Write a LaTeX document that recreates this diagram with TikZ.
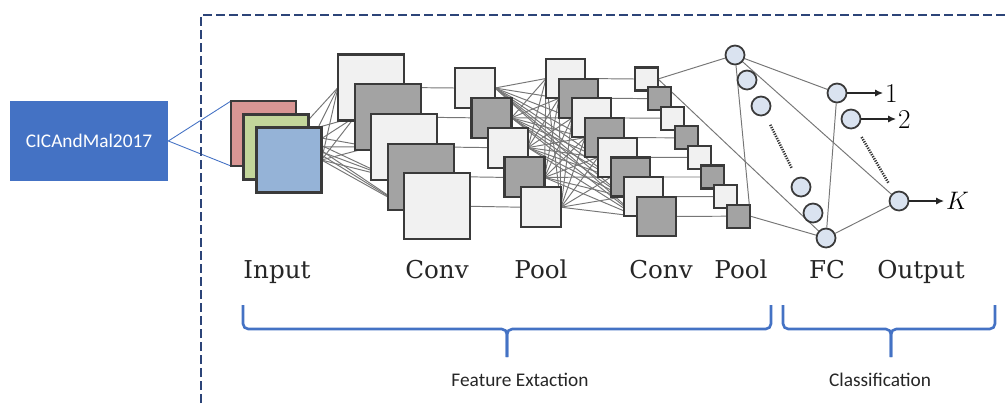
\documentclass[tikz,border=0pt]{standalone}
\usepackage{fontspec}
\usetikzlibrary{arrows.meta,backgrounds}
\newfontfamily\calfont{Carlito}
\newfontfamily\layerfont{DejaVu Serif}
\definecolor{boxblue}{HTML}{4472C4}
\definecolor{framenavy}{RGB}{44,68,120}
\definecolor{sqedge}{HTML}{3A3A3A}
\definecolor{sqlight}{HTML}{F1F1F1}
\definecolor{sqdark}{HTML}{A3A3A3}
\definecolor{neufill}{HTML}{DAE3F0}
\definecolor{linkgray}{HTML}{767676}
\definecolor{inred}{HTML}{D99694}
\definecolor{ingreen}{HTML}{C3D69B}
\definecolor{inblue}{HTML}{95B3D7}
\begin{document}
\begin{tikzpicture}[x=0.02cm,y=-0.02cm,
  sq/.style={draw=sqedge,line width=1.2pt,inner sep=0pt,outer sep=0pt},
  neuron/.style={circle,draw=sqedge,line width=1pt,fill=neufill,minimum size=0.38cm,inner sep=0pt},
  link/.style={draw=linkgray,line width=0.55pt},
  layer/.style={font=\layerfont\fontsize{14}{17}\selectfont,anchor=base,text=black!85},
  brace/.style={draw=boxblue,line width=1.5pt,rounded corners=3pt},
  outarrow/.style={draw=black!85,line width=0.7pt,-{Latex[length=4.5pt,width=4pt]}},
  ellip/.style={draw=black!80,line width=1.5pt,dash pattern=on 0.7pt off 0.7pt,shorten <=6pt,shorten >=6pt}]
\useasboundingbox (0,0) rectangle (1006,403);

\draw[framenavy,line width=1.2pt,dash pattern=on 5pt off 2.4pt] (201,403) -- (201,15) -- (1006,15);

\node[fill=boxblue,minimum width=3.16cm,minimum height=1.6cm,text=white,font=\calfont\fontsize{11}{13}\selectfont] (src) at (89,141) {CICAndMal2017};

\node[sq,fill=inred,minimum size=1.3cm] (in-r) at (263.5,133.5) {};
\node[sq,fill=ingreen,minimum size=1.3cm] (in-g) at (276,147) {};
\node[sq,fill=inblue,minimum size=1.3cm] (in-b) at (289,160) {};

\foreach \i/\fc in {1/sqlight,2/sqdark,3/sqlight,4/sqdark,5/sqlight} {
  \node[sq,fill=\fc,minimum size=1.32cm] (conv1-\i) at ({371+16.6*(\i-1)},{87.5+29.7*(\i-1)}) {};
  \node[sq,fill=\fc,minimum size=0.8cm] (pool1-\i) at ({475+16.5*(\i-1)},{88+29.8*(\i-1)}) {};
}
\foreach \i/\fc in {1/sqlight,2/sqdark,3/sqlight,4/sqdark,5/sqlight,6/sqdark,7/sqlight,8/sqdark} {
  \node[sq,fill=\fc,minimum size=0.78cm] (conv2-\i) at ({565.5+13*(\i-1)},{78.5+19.7*(\i-1)}) {};
  \node[sq,fill=\fc,minimum size=0.46cm] (pool2-\i) at ({646.5+13.2*(\i-1)},{79+19.6*(\i-1)}) {};
}

\foreach \i/\p in {1/{735,55},2/{747,80},3/{761,106},4/{801,187},5/{813,213},6/{826,238}}
  \node[neuron] (fc\i) at (\p) {};
\node[neuron] (out1) at (837,93) {};
\node[neuron] (out2) at (851,119) {};
\node[neuron] (outK) at (899,201) {};

\node[anchor=west,inner sep=1pt,font=\fontsize{15.5}{18}\selectfont] (y1) at (883,93) {1};
\node[anchor=west,inner sep=1pt,font=\fontsize{15.5}{18}\selectfont] (y2) at (896,119) {2};
\node[anchor=west,inner sep=1pt,font=\fontsize{15.5}{18}\selectfont] (yK) at (944,201) {$K$};
\draw[outarrow] (out1) -- (y1);
\draw[outarrow] (out2) -- (y2);
\draw[outarrow] (outK) -- (yK);
\draw[ellip] (fc3) -- (fc4);
\draw[ellip] (out2) -- (outK);

\begin{pgfonlayer}{background}
  \draw[boxblue,line width=0.5pt] (src.east) -- (in-r.north west);
  \draw[boxblue,line width=0.5pt] (src.east) -- (in-r.south west);
  \foreach \a in {in-r,in-g,in-b}
    \foreach \j in {1,...,5}
      \draw[link] (\a.east) -- (conv1-\j.west);
  \foreach \i in {1,...,5} {
    \draw[link] (conv1-\i.east) -- (pool1-\i.west);
    \foreach \j in {1,...,8}
      \draw[link] (pool1-\i.east) -- (conv2-\j.west);
  }
  \foreach \i in {1,...,8}
    \draw[link] (conv2-\i.east) -- (pool2-\i.west);
  \foreach \a in {pool2-1,pool2-8}
    \foreach \b in {fc1,fc6}
      \draw[link] (\a.east) -- (\b);
  \foreach \a in {fc1,fc6}
    \foreach \b in {out1,outK}
      \draw[link] (\a) -- (\b);
\end{pgfonlayer}

\node[layer] (lab-in) at (277,278) {Input};
\node[layer] (lab-c1) at (437,278) {Conv};
\node[layer] (lab-p1) at (541,278) {Pool};
\node[layer] (lab-c2) at (661,278) {Conv};
\node[layer] (lab-p2) at (741,278) {Pool};
\node[layer] (lab-fc) at (827,278) {FC};
\node[layer] (lab-out) at (921,278) {Output};

\draw[brace] (243,305) -- (243,329) -- (507,329) -- (507,357);
\draw[brace] (771,305) -- (771,329) -- (507,329) -- (507,357);
\draw[brace] (783,305) -- (783,329) -- (891,329) -- (891,357);
\draw[brace] (995,305) -- (995,329) -- (891,329) -- (891,357);

\node[font=\calfont\fontsize{11}{13}\selectfont,text=black!85] (feat) at (520,380) {Feature Extaction};
\node[font=\calfont\fontsize{11}{13}\selectfont,text=black!85] (cls) at (880,380) {Classification};
\end{tikzpicture}
\end{document}
